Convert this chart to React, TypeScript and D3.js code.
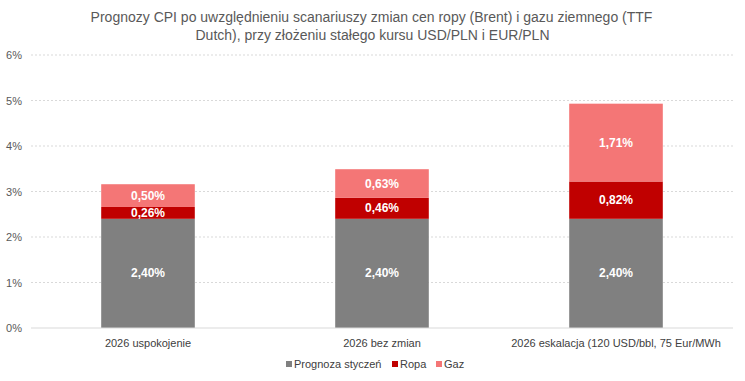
import React from "react";
import * as d3 from "d3";

const categories = ["2026 uspokojenie", "2026 bez zmian", "2026 eskalacja (120 USD/bbl, 75 Eur/MWh"];
const seriesNames = ["Prognoza styczeń", "Ropa", "Gaz"];
const baseValues = [2.4, 2.4, 2.4];
const oilValues = [0.26, 0.46, 0.82];
const gasValues = [0.5, 0.63, 1.71];
const yTicks = [0, 1, 2, 3, 4, 5, 6];
const colors = ["#808080", "#C00000", "#F47676"];

const W = 745;
const H = 381;
const margin = { left: 31, right: 12, top: 55, bottom: 53 };

export default function App() {
  const x = d3
    .scaleBand<string>()
    .domain(categories)
    .range([margin.left, W - margin.right])
    .paddingInner(0.6)
    .paddingOuter(0.3);
  const y = d3.scaleLinear().domain([0, 6]).range([H - margin.bottom, margin.top]);

  const rows = categories.map((c, i) => ({
    cat: c,
    base: baseValues[i],
    oil: oilValues[i],
    gas: gasValues[i],
  }));
  const stacked = d3.stack<any>().keys(["base", "oil", "gas"])(rows);
  const fmt = (v: number) => v.toFixed(2).replace(".", ",") + "%";
  const font = "'Liberation Sans', Arial, sans-serif";

  const legendItems = seriesNames.map((n, i) => ({ n, c: colors[i] }));
  const legendX = [286, 392, 436];

  return (
    <svg width={W} height={H} style={{ position: "absolute", left: 0, top: 0 }} fontFamily={font}>
      <rect width={W} height={H} fill="#fff" />
      <text x={W / 2 - 1} y={22} textAnchor="middle" fontSize={14} fill="#595959">
        Prognozy CPI po uwzględnieniu scanariuszy zmian cen ropy (Brent) i gazu ziemnego (TTF
      </text>
      <text x={W / 2} y={40} textAnchor="middle" fontSize={14} fill="#595959">
        Dutch), przy złożeniu stałego kursu USD/PLN i EUR/PLN
      </text>
      {yTicks.map((t) => (
        <g key={t}>
          {t > 0 && (
            <line
              x1={margin.left}
              x2={W - margin.right}
              y1={y(t)}
              y2={y(t)}
              stroke="#D9D9D9"
              strokeDasharray="2,2"
              strokeWidth={1}
            />
          )}
          <text x={22} y={y(t) + 4} textAnchor="end" fontSize={11} fill="#595959">
            {t + "%"}
          </text>
        </g>
      ))}
      {stacked.map((s, si) =>
        s.map((d, i) => {
          const x0 = x(categories[i])!;
          const y0 = y(d[1]);
          const h = y(d[0]) - y(d[1]);
          return (
            <g key={si + "-" + i}>
              <rect x={x0} y={y0} width={x.bandwidth()} height={h} fill={colors[si]} />
              <text
                x={x0 + x.bandwidth() / 2}
                y={y0 + h / 2 + 4}
                textAnchor="middle"
                fontSize={12}
                fontWeight="bold"
                fill="#fff"
              >
                {fmt(d[1] - d[0])}
              </text>
            </g>
          );
        })
      )}
      <line
        x1={margin.left}
        x2={W - margin.right}
        y1={y(0)}
        y2={y(0)}
        stroke="#D9D9D9"
        strokeWidth={1}
      />
      {categories.map((c) => (
        <text
          key={c}
          x={x(c)! + x.bandwidth() / 2}
          y={y(0) + 19}
          textAnchor="middle"
          fontSize={11}
          fill="#404040"
        >
          {c}
        </text>
      ))}
      {legendItems.map((l, i) => (
        <g key={l.n}>
          <rect x={legendX[i]} y={361} width={6} height={6} fill={l.c} />
          <text x={legendX[i] + 8} y={368} fontSize={11} fill="#404040">
            {l.n}
          </text>
        </g>
      ))}
    </svg>
  );
}
